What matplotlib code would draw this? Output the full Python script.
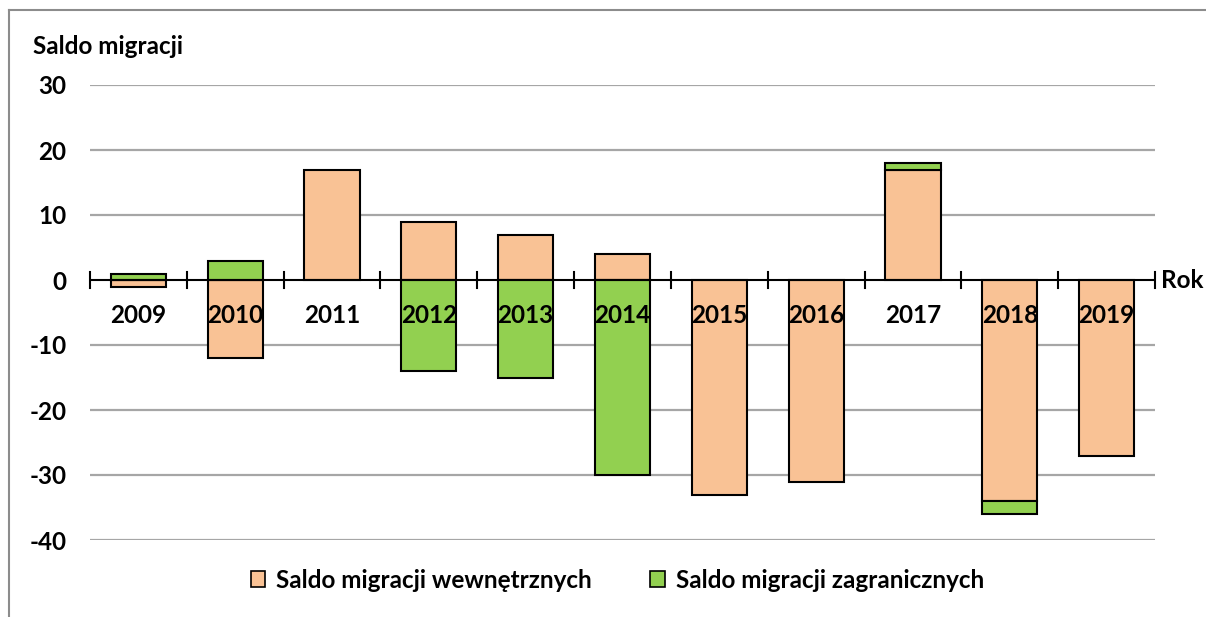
import matplotlib
matplotlib.use("Agg")
import matplotlib.pyplot as plt
from matplotlib.patches import Patch
import numpy as np

years = ["2009", "2010", "2011", "2012", "2013", "2014", "2015", "2016", "2017", "2018", "2019"]
internal = [-1, -12, 17, 9, 7, 4, -33, -31, 17, -34, -27]
external = [1, 3, 0, -14, -15, -30, 0, 0, 1, -2, 0]
series_names = ["Saldo migracji wewnętrznych", "Saldo migracji zagranicznych"]
yticks = [30, 20, 10, 0, -10, -20, -30, -40]

c_int = "#F9C295"
c_ext = "#92D050"
FONT = "Lato"
FS = 17.5

plt.rcParams["font.family"] = [FONT, "DejaVu Sans"]
plt.rcParams["font.weight"] = "bold"

fig = plt.figure(figsize=(12.06, 6.17), dpi=100)
ax = fig.add_axes([90/1206, 77/617, 1065/1206, 455/617])

n = len(years)
x = np.arange(n)
ax.set_xlim(-0.5, n - 0.5)
ax.set_ylim(-40, 30)

pos = np.zeros(n)
neg = np.zeros(n)
for vals, col in [(internal, c_int), (external, c_ext)]:
    vals = np.array(vals, dtype=float)
    bottoms = np.where(vals >= 0, pos, neg)
    mask = vals != 0
    ax.bar(x[mask], vals[mask], bottom=bottoms[mask], width=0.57, color=col,
           edgecolor="black", linewidth=1.5, zorder=3)
    pos = pos + np.where(vals > 0, vals, 0)
    neg = neg + np.where(vals < 0, vals, 0)

# gridlines
for t in yticks:
    if t != 0:
        ax.axhline(t, color="#A6A6A6", linewidth=1.6, zorder=1)
ax.axhline(0, color="black", linewidth=1.5, zorder=4)
# tick marks on the zero line at category boundaries
for b in np.arange(-0.5, n, 1.0):
    ax.plot([b, b], [-1.25, 1.25], color="black", linewidth=1.5, zorder=4,
            clip_on=False)

for sp in ax.spines.values():
    sp.set_visible(False)
ax.set_xticks([])
ax.set_yticks(yticks)
ax.set_yticklabels([str(t) for t in yticks], fontsize=FS, fontweight="bold")
ax.tick_params(axis="y", length=0, pad=17)

for i, y in enumerate(years):
    ax.text(i, -5.4, y, ha="center", va="center", fontsize=FS,
            fontweight="bold", zorder=6)

ax.text(1.006, 0, "Rok", transform=ax.get_yaxis_transform(), ha="left",
        va="center", fontsize=FS, fontweight="bold")
fig.text(33/1206, 1 - 46/617, "Saldo migracji", ha="left", va="center",
         fontsize=FS, fontweight="bold")

handles = [Patch(facecolor=c_int, edgecolor="black", linewidth=1.2),
           Patch(facecolor=c_ext, edgecolor="black", linewidth=1.2)]
fig.legend(handles, series_names, loc="center", bbox_to_anchor=(0.512, 1 - 580/617),
           ncol=2, frameon=False, handlelength=0.6,
           handleheight=0.6, handletextpad=0.45, columnspacing=2.4,
           prop={"weight": "bold", "size": FS, "family": [FONT, "DejaVu Sans"]})

# outer frame (left and top visible)
fig.add_artist(plt.Line2D([9/1206, 9/1206], [0, 1 - 10/617], transform=fig.transFigure,
                          color="#8C8C8C", linewidth=1.5))
fig.add_artist(plt.Line2D([9/1206, 1], [1 - 10/617, 1 - 10/617], transform=fig.transFigure,
                          color="#8C8C8C", linewidth=1.5))

fig.savefig("out.png", dpi=100, facecolor="white")
